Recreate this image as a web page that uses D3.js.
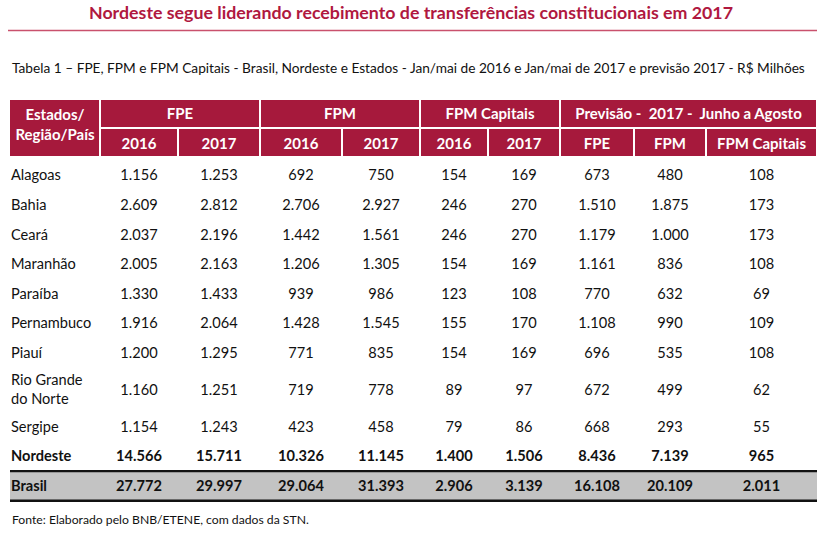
<!DOCTYPE html>
<html>
<head>
<meta charset="utf-8">
<script src="https://cdn.jsdelivr.net/npm/d3@7"></script>
<style>
  html, body { margin: 0; padding: 0; background: #fff; }
  svg { display: block; font-family: Lato, "Open Sans", sans-serif; }
  text { white-space: pre; }
</style>
</head>
<body>
<div id="chart"></div>
<script>
// table data
const states = ["Alagoas", "Bahia", "Ceará", "Maranhão", "Paraíba", "Pernambuco", "Piauí", "Rio Grande\ndo Norte", "Sergipe", "Nordeste", "Brasil"];
const fpe2016 = ["1.156", "2.609", "2.037", "2.005", "1.330", "1.916", "1.200", "1.160", "1.154", "14.566", "27.772"];
const fpe2017 = ["1.253", "2.812", "2.196", "2.163", "1.433", "2.064", "1.295", "1.251", "1.243", "15.711", "29.997"];
const fpm2016 = ["692", "2.706", "1.442", "1.206", "939", "1.428", "771", "719", "423", "10.326", "29.064"];
const fpm2017 = ["750", "2.927", "1.561", "1.305", "986", "1.545", "835", "778", "458", "11.145", "31.393"];
const cap2016 = ["154", "246", "246", "154", "123", "155", "154", "89", "79", "1.400", "2.906"];
const cap2017 = ["169", "270", "270", "169", "108", "170", "169", "97", "86", "1.506", "3.139"];
const prevFpe = ["673", "1.510", "1.179", "1.161", "770", "1.108", "696", "672", "668", "8.436", "16.108"];
const prevFpm = ["480", "1.875", "1.000", "836", "632", "990", "535", "499", "293", "7.139", "20.109"];
const prevCap = ["108", "173", "173", "108", "69", "109", "108", "62", "55", "965", "2.011"];

const groupLabels = ["FPE", "FPM", "FPM Capitais", "Previsão -  2017 -  Junho a Agosto"];
const subLabels = ["2016", "2017", "2016", "2017", "2016", "2017", "FPE", "FPM", "FPM Capitais"];
const groupSpans = [2, 2, 2, 3];

const title = "Nordeste segue liderando recebimento de transferências constitucionais em 2017";
const subtitle = "Tabela 1 – FPE, FPM e FPM Capitais - Brasil, Nordeste e Estados - Jan/mai de 2016 e Jan/mai de 2017 e previsão 2017 - R$ Milhões";
const source = "Fonte: Elaborado pelo BNB/ETENE, com dados da STN.";

const valueCols = [fpe2016, fpe2017, fpm2016, fpm2017, cap2016, cap2017, prevFpe, prevFpm, prevCap];

const W = 836, H = 536;
const RED = "#a6193c";
const TITLE_RED = "#b0183f";

// column edges (layout)
const colEdges = [10, 100, 178, 260, 342, 420, 488, 560, 634, 706, 817];
const gap = 2;
const headTop = 100, headMid = 128, headBot = 156;
const headFont = 15;

// row layout: height grows with number of text lines
const baseRowH = 29.6, extraLineH = 14.6;
const rows = states.map((s, i) => ({ name: s, lines: s.split("\n"), i }));
let yAcc = 160.5;
rows.forEach(r => {
  r.h = baseRowH + (r.lines.length - 1) * extraLineH;
  r.y0 = yAcc;
  yAcc += r.h;
});
const y = d3.scaleOrdinal().domain(rows.map(r => r.name)).range(rows.map(r => r.y0 + r.h / 2));

const svg = d3.select("#chart").append("svg")
  .attr("width", W)
  .attr("height", H);

// title
svg.append("text")
  .attr("x", 411)
  .attr("y", 19)
  .attr("text-anchor", "middle")
  .attr("font-size", 17.8)
  .attr("font-weight", 700)
  .attr("fill", TITLE_RED)
  .text(title);

svg.append("line")
  .attr("x1", 8).attr("x2", 817)
  .attr("y1", 30.5).attr("y2", 30.5)
  .attr("stroke", "#c9516d")
  .attr("stroke-width", 1.4);

svg.append("text")
  .attr("x", 12)
  .attr("y", 73)
  .attr("font-size", 13.7)
  .attr("fill", "#111")
  .text(subtitle);

// header
const head = svg.append("g");
head.append("rect")
  .attr("x", colEdges[0]).attr("y", headTop)
  .attr("width", colEdges[1] - colEdges[0] - gap / 2)
  .attr("height", headBot - headTop)
  .attr("fill", RED);
head.append("text")
  .attr("x", (colEdges[0] + colEdges[1]) / 2)
  .attr("y", 124)
  .attr("text-anchor", "middle")
  .attr("font-size", headFont)
  .attr("font-weight", 700)
  .attr("fill", "#fff")
  .selectAll("tspan")
  .data(["Estados/", "Região/País"])
  .join("tspan")
  .attr("x", (colEdges[0] + colEdges[1]) / 2)
  .attr("dy", (d, i) => i === 0 ? -4 : 20)
  .text(d => d);

let c = 1;
const groups = groupLabels.map((g, i) => {
  const o = { label: g, x0: colEdges[c], x1: colEdges[c + groupSpans[i]] };
  c += groupSpans[i];
  return o;
});
head.selectAll("rect.grp")
  .data(groups)
  .join("rect")
  .attr("class", "grp")
  .attr("x", d => d.x0 + gap / 2)
  .attr("y", headTop)
  .attr("width", d => d.x1 - d.x0 - gap)
  .attr("height", headMid - headTop - gap / 2)
  .attr("fill", RED);
head.selectAll("text.grp")
  .data(groups)
  .join("text")
  .attr("class", "grp")
  .attr("x", d => (d.x0 + d.x1) / 2)
  .attr("y", 119)
  .attr("text-anchor", "middle")
  .attr("font-size", headFont)
  .attr("font-weight", 700)
  .attr("fill", "#fff")
  .text(d => d.label);

const subs = subLabels.map((s, i) => ({ label: s, x0: colEdges[i + 1], x1: colEdges[i + 2] }));
head.selectAll("rect.sub")
  .data(subs)
  .join("rect")
  .attr("class", "sub")
  .attr("x", d => d.x0 + gap / 2)
  .attr("y", headMid + gap / 2)
  .attr("width", d => d.x1 - d.x0 - gap)
  .attr("height", headBot - headMid - gap / 2)
  .attr("fill", RED);
head.selectAll("text.sub")
  .data(subs)
  .join("text")
  .attr("class", "sub")
  .attr("x", d => (d.x0 + d.x1) / 2)
  .attr("y", 149)
  .attr("text-anchor", "middle")
  .attr("font-size", headFont)
  .attr("font-weight", 700)
  .attr("fill", "#fff")
  .text(d => d.label);

// Brasil band
const br = rows[rows.length - 1];
svg.append("rect")
  .attr("x", colEdges[0]).attr("y", br.y0)
  .attr("width", colEdges[colEdges.length - 1] - colEdges[0])
  .attr("height", br.h)
  .attr("fill", "#c3c3c3");
svg.append("line")
  .attr("x1", colEdges[0]).attr("x2", colEdges[colEdges.length - 1])
  .attr("y1", br.y0).attr("y2", br.y0)
  .attr("stroke", "#111").attr("stroke-width", 2.4);
svg.append("line")
  .attr("x1", colEdges[0]).attr("x2", colEdges[colEdges.length - 1])
  .attr("y1", br.y0 + br.h).attr("y2", br.y0 + br.h)
  .attr("stroke", "#111").attr("stroke-width", 2.4);

// body
const bold = d => d.name === "Nordeste" || d.name === "Brasil";
const body = svg.append("g").attr("font-size", 14.6).attr("fill", "#111");

const rowG = body.selectAll("g.row")
  .data(rows)
  .join("g")
  .attr("class", "row")
  .attr("font-weight", d => bold(d) ? 700 : 400);

rowG.append("text")
  .attr("x", 11)
  .attr("y", d => y(d.name) - (d.lines.length - 1) * 9.5 + 5)
  .selectAll("tspan")
  .data(d => d.lines)
  .join("tspan")
  .attr("x", 11)
  .attr("dy", (d, i) => i === 0 ? 0 : 19)
  .text(d => d);

rowG.selectAll("text.val")
  .data(d => valueCols.map((col, j) => ({ v: col[d.i], j, name: d.name })))
  .join("text")
  .attr("class", "val")
  .attr("x", d => (colEdges[d.j + 1] + colEdges[d.j + 2]) / 2)
  .attr("y", d => y(d.name) + 5)
  .attr("text-anchor", "middle")
  .text(d => d.v);

svg.append("text")
  .attr("x", 12)
  .attr("y", 524)
  .attr("font-size", 12.2)
  .attr("fill", "#111")
  .text(source);
</script>
</body>
</html>
